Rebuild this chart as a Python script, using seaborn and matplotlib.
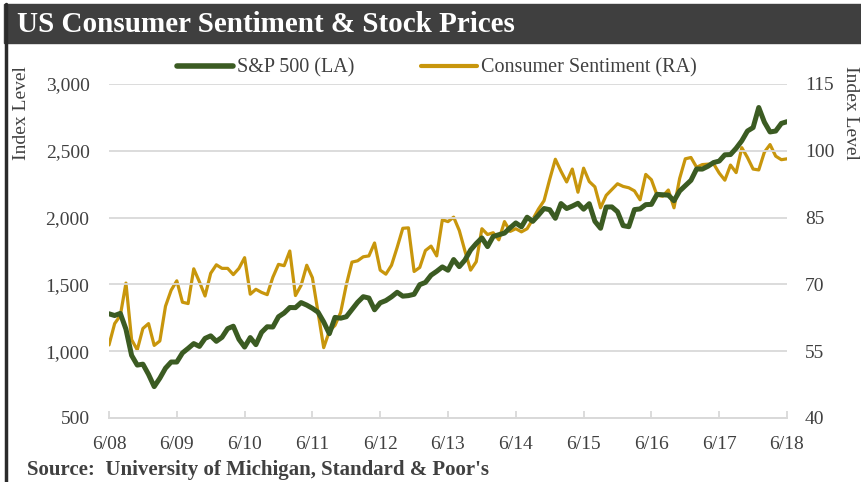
import numpy as np
import pandas as pd
import seaborn as sns
import matplotlib.pyplot as plt
from matplotlib.patches import Rectangle
from matplotlib.lines import Line2D

# monthly values, 6/08 .. 6/18
sp500 = [1280, 1267, 1283, 1165, 969, 896, 903,
         826, 735, 798, 873, 919, 919, 987, 1021, 1057, 1036, 1096, 1115,
         1074, 1104, 1169, 1187, 1089, 1031, 1102, 1049, 1141, 1183, 1181, 1258,
         1286, 1327, 1326, 1364, 1345, 1321, 1292, 1219, 1131, 1253, 1247, 1258,
         1312, 1366, 1408, 1398, 1310, 1362, 1379, 1407, 1441, 1412, 1416, 1426,
         1498, 1515, 1569, 1598, 1631, 1606, 1686, 1633, 1682, 1757, 1806, 1848,
         1783, 1859, 1872, 1884, 1924, 1960, 1931, 2003, 1972, 2018, 2068, 2059,
         1995, 2105, 2068, 2086, 2107, 2063, 2104, 1972, 1920, 2079, 2080, 2044,
         1940, 1932, 2060, 2065, 2097, 2099, 2174, 2171, 2168, 2126, 2199, 2239,
         2279, 2364, 2363, 2384, 2412, 2423, 2470, 2472, 2519, 2575, 2648, 2674,
         2824, 2714, 2641, 2648, 2705, 2718]

sentiment = [56.4, 61.2, 63.0, 70.3, 57.6, 55.3, 60.1,
             61.2, 56.3, 57.3, 65.1, 68.7, 70.8, 66.0, 65.7, 73.5, 70.6, 67.4, 72.5,
             74.4, 73.6, 73.6, 72.2, 73.6, 76.0, 67.8, 68.9, 68.2, 67.7, 71.6, 74.5,
             74.2, 77.5, 67.5, 69.8, 74.3, 71.5, 63.7, 55.8, 59.5, 60.8, 63.7, 69.9,
             75.0, 75.3, 76.2, 76.4, 79.3, 73.2, 72.3, 74.3, 78.3, 82.6, 82.7, 72.9,
             73.8, 77.6, 78.6, 76.4, 84.5, 84.1, 85.1, 82.1, 77.5, 73.2, 75.1, 82.5,
             81.2, 81.6, 80.0, 84.1, 81.9, 82.5, 81.8, 82.5, 84.6, 86.9, 88.8, 93.6,
             98.1, 95.4, 93.0, 95.9, 90.7, 96.1, 93.1, 91.9, 87.2, 90.0, 91.3, 92.6,
             92.0, 91.7, 91.0, 89.0, 94.7, 93.5, 90.0, 89.8, 91.2, 87.2, 93.8, 98.2,
             98.5, 96.3, 96.9, 97.0, 97.1, 95.0, 93.4, 96.8, 95.1, 100.7, 98.5, 95.9,
             95.7, 99.7, 101.4, 98.8, 98.0, 98.2]

tick_labels = ['6/08', '6/09', '6/10', '6/11', '6/12', '6/13',
               '6/14', '6/15', '6/16', '6/17', '6/18']

df = pd.DataFrame({'Month': np.arange(len(sp500)), 'SP500': sp500, 'Sentiment': sentiment})

green = '#3B5B22'
gold = '#C8960C'
grey = '#404040'

sns.set_theme(style='white')
plt.rcParams['font.family'] = ['Liberation Serif', 'DejaVu Serif']

fig = plt.figure(figsize=(8.61, 4.82), dpi=100)
ax = fig.add_axes([109 / 861, 64 / 482, 678 / 861, 334 / 482])
ax2 = ax.twinx()

sns.lineplot(x='Month', y='SP500', data=df, ax=ax, color=green, linewidth=3.6, zorder=3)
sns.lineplot(x='Month', y='Sentiment', data=df, ax=ax2, color=gold, linewidth=2.3, zorder=2)

ax.set_xlim(0, 120)
ax.set_ylim(500, 3000)
ax2.set_ylim(40, 115)
ax.set_yticks(np.arange(500, 3001, 500))
ax.set_yticklabels([f'{v:,}' for v in range(500, 3001, 500)])
ax2.set_yticks(np.arange(40, 116, 15))
ax.set_xticks(np.arange(0, 121, 12))
ax.set_xticklabels(tick_labels)

ax.grid(axis='y', color='#D9D9D9', linewidth=1.3)
ax.grid(axis='x', visible=False)
ax2.grid(False)
ax.set_axisbelow(True)
ax.set_zorder(ax2.get_zorder() + 1)
ax.patch.set_visible(False)

for a in (ax, ax2):
    for s in ('top', 'left', 'right'):
        a.spines[s].set_visible(False)
    a.spines['bottom'].set_color('#D9D9D9')
    a.spines['bottom'].set_linewidth(1.3)
    a.set_xlabel('')
    a.set_ylabel('')

ax.tick_params(axis='x', direction='in', length=5, width=1.3, color='#D9D9D9',
               labelsize=14, labelcolor=grey, pad=13, bottom=True)
ax.tick_params(axis='y', length=0, labelsize=14, labelcolor=grey, pad=14)
ax2.tick_params(axis='y', length=0, labelsize=14, labelcolor=grey, pad=13)

# title bar and frame
fig.patches.append(Rectangle((4 / 861, 1 - 43 / 482), 1, 39 / 482, transform=fig.transFigure,
                             color='#3F3F3F', zorder=0))
fig.lines.append(Line2D([5.5 / 861, 5.5 / 861], [0, 1 - 4 / 482], transform=fig.transFigure,
                        color='#2B2B2B', linewidth=2.5))
fig.text(17 / 861, 1 - 24 / 482, 'US Consumer Sentiment & Stock Prices', color='white',
         fontsize=21, fontweight='bold', va='center', ha='left')

fig.text(22 / 861, 1 - 66 / 482, 'Index Level', rotation=90, color=grey, fontsize=14,
         va='top', ha='center')
fig.text(851 / 861, 1 - 66 / 482, 'Index Level', rotation=270, color=grey, fontsize=14,
         va='top', ha='center')

handles = [Line2D([], [], color=green, linewidth=4), Line2D([], [], color=gold, linewidth=3)]
fig.legend(handles, ['S&P 500 (LA)', 'Consumer Sentiment (RA)'], loc='center',
           bbox_to_anchor=(437 / 861, 1 - 68 / 482), ncol=2, frameon=False, fontsize=14.5,
           handlelength=2.8, handletextpad=0.2, columnspacing=3.3, labelcolor=grey)

fig.text(27 / 861, 1 - 470 / 482, "Source:  University of Michigan, Standard & Poor's",
         color=grey, fontsize=15, fontweight='bold', va='center', ha='left')

plt.savefig('out.png', dpi=100)
